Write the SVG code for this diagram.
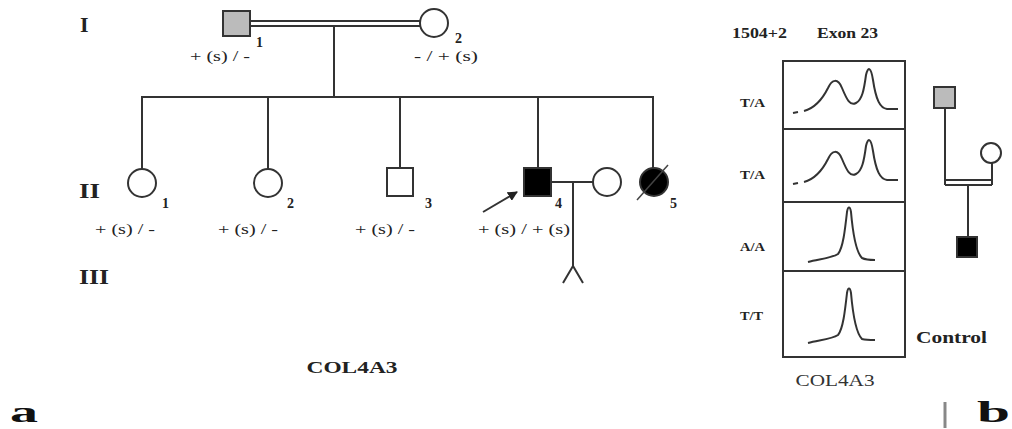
<svg xmlns="http://www.w3.org/2000/svg" width="1012" height="429" viewBox="0 0 1012 429">
<style>
.ln{stroke:#333;stroke-width:2;fill:none}
.sym{stroke:#333;stroke-width:2}
.gen{font-family:"Liberation Serif",serif;font-size:15px;fill:#222}
.num{font-family:"Liberation Serif",serif;font-size:14px;font-weight:bold;fill:#222}
.rom{font-family:"Liberation Serif",serif;font-size:22px;font-weight:bold;fill:#222}
.lbl{font-family:"Liberation Serif",serif;font-size:14px;font-weight:bold;fill:#222}
.trace{stroke:#333;stroke-width:2;fill:none;stroke-linejoin:round}
</style>
<defs>
<marker id="ah" viewBox="0 0 10 10" refX="9" refY="5" markerWidth="5" markerHeight="5" orient="auto"><path d="M0,0 L10,5 L0,10 z" fill="#222"/></marker>
</defs>
<rect width="1012" height="429" fill="#fff"/>
<g id="connectors">
<line x1="250" y1="21" x2="420" y2="21" class="ln"/>
<line x1="250" y1="26" x2="420" y2="26" class="ln"/>
<line x1="334" y1="26" x2="334" y2="97" class="ln"/>
<polyline points="142,169 142,97 653,97 653,168" class="ln"/>
<line x1="268" y1="97" x2="268" y2="169" class="ln"/>
<line x1="400" y1="97" x2="400" y2="168" class="ln"/>
<line x1="538" y1="97" x2="538" y2="168" class="ln"/>
<line x1="551" y1="182" x2="593" y2="182" class="ln"/>
<polyline points="573,182 573,267" class="ln"/>
<polyline points="563,283 573,266 583,283" class="ln"/>
<line x1="483" y1="212" x2="517" y2="192" class="ln" marker-end="url(#ah)"/>
<line x1="945" y1="108" x2="945" y2="185" class="ln"/>
<line x1="945" y1="180" x2="992" y2="180" class="ln"/>
<line x1="945" y1="185" x2="992" y2="185" class="ln"/>
<line x1="992" y1="163" x2="992" y2="185" class="ln"/>
<line x1="968" y1="185" x2="968" y2="237" class="ln"/>
</g>
<g id="I-1"><rect x="223" y="11" width="27" height="25" fill="#bbb" class="sym"/><text x="256" y="47" class="num">1</text><text x="190" y="61" class="gen" textLength="60" lengthAdjust="spacingAndGlyphs">+ (s) / -</text></g>
<g id="I-2"><circle cx="434" cy="23" r="14" fill="#fff" class="sym"/><text x="455" y="43" class="num">2</text><text x="414" y="61" class="gen" textLength="64" lengthAdjust="spacingAndGlyphs">- / + (s)</text></g>
<g id="II-1"><circle cx="142" cy="183" r="14" fill="#fff" class="sym"/><text x="162" y="208" class="num">1</text><text x="95" y="234" class="gen" textLength="60" lengthAdjust="spacingAndGlyphs">+ (s) / -</text></g>
<g id="II-2"><circle cx="268" cy="183" r="14" fill="#fff" class="sym"/><text x="287" y="208" class="num">2</text><text x="218" y="234" class="gen" textLength="60" lengthAdjust="spacingAndGlyphs">+ (s) / -</text></g>
<g id="II-3"><rect x="387" y="168" width="26" height="28" fill="#fff" class="sym"/><text x="425" y="208" class="num">3</text><text x="355" y="234" class="gen" textLength="60" lengthAdjust="spacingAndGlyphs">+ (s) / -</text></g>
<g id="II-4"><rect x="524" y="168" width="27" height="28" fill="#000" class="sym"/><text x="555" y="208" class="num">4</text><text x="478" y="234" class="gen" textLength="92" lengthAdjust="spacingAndGlyphs">+ (s) / + (s)</text></g>
<g id="II-4-spouse"><circle cx="607" cy="182" r="14" fill="#fff" class="sym"/></g>
<g id="II-5"><circle cx="654" cy="182" r="14" fill="#000" class="sym"/><line x1="637" y1="200" x2="668" y2="165" stroke="#444" stroke-width="1.5"/><text x="670" y="208" class="num">5</text></g>
<g id="III-1"></g>
<g id="generations"><text x="80" y="32" class="rom">I</text><text x="79" y="198" class="rom" textLength="21" lengthAdjust="spacingAndGlyphs">II</text><text x="79" y="284" class="rom" textLength="30" lengthAdjust="spacingAndGlyphs">III</text></g>
<text x="352" y="373" class="lbl" font-size="17" text-anchor="middle" textLength="91" lengthAdjust="spacingAndGlyphs" style="font-size:17px">COL4A3</text>
<text x="10" y="422" font-family="Liberation Serif, serif" font-weight="bold" font-size="30" fill="#111" textLength="28" lengthAdjust="spacingAndGlyphs">a</text>
<g id="panel-b">
<text x="732" y="38" class="lbl" textLength="55" lengthAdjust="spacingAndGlyphs">1504+2</text>
<text x="817" y="38" class="lbl" textLength="61" lengthAdjust="spacingAndGlyphs">Exon 23</text>
<rect x="783" y="61" width="122" height="296" class="ln"/>
<line x1="783" y1="129" x2="905" y2="129" class="ln"/>
<line x1="783" y1="202" x2="905" y2="202" class="ln"/>
<line x1="783" y1="271" x2="905" y2="271" class="ln"/>
<text x="740" y="107" class="lbl" font-size="12" style="font-size:12px" textLength="25" lengthAdjust="spacingAndGlyphs">T/A</text>
<text x="740" y="179" class="lbl" style="font-size:12px" textLength="25" lengthAdjust="spacingAndGlyphs">T/A</text>
<text x="740" y="251" class="lbl" style="font-size:12px" textLength="25" lengthAdjust="spacingAndGlyphs">A/A</text>
<text x="740" y="320" class="lbl" style="font-size:12px" textLength="23" lengthAdjust="spacingAndGlyphs">T/T</text>
<path d="M793,113 L798,112 M804,111 C815,108 822,100 828,88 C832,79 838,78 842,88 C847,100 850,106 856,103 C862,100 864,90 866,75 C868,66 871,67 873,80 C876,100 880,108 887,109 L898,109" class="trace"/>
<path d="M793,184 L798,183 M804,182 C815,179 822,171 828,159 C832,150 838,149 842,159 C847,171 850,177 856,174 C862,171 864,161 866,146 C868,137 871,138 873,151 C876,171 880,179 887,180 L898,180" class="trace"/>
<path d="M808,262 C820,259 832,258 838,254 C843,248 845,230 847,212 C848,206 850,206 851,212 C853,235 856,252 862,258 C866,260 870,260 875,260" class="trace"/>
<path d="M808,343 C820,340 832,339 838,335 C843,329 845,311 847,293 C848,287 850,287 851,293 C853,316 856,333 862,339 C866,340 870,340 875,340" class="trace"/>
<text x="835" y="386" font-family="Liberation Serif, serif" font-size="17" fill="#333" text-anchor="middle" textLength="79" lengthAdjust="spacingAndGlyphs">COL4A3</text>
<text x="916" y="343" class="lbl" style="font-size:17px" textLength="71" lengthAdjust="spacingAndGlyphs">Control</text>
<rect x="934" y="87" width="21" height="21" fill="#bbb" class="sym"/>
<circle cx="991" cy="153" r="10" fill="#fff" class="sym"/>
<rect x="957" y="237" width="20" height="20" fill="#000" class="sym"/>
<line x1="945" y1="402" x2="945" y2="428" stroke="#888" stroke-width="3"/>
<text x="977" y="422" font-family="Liberation Serif, serif" font-weight="bold" font-size="30" fill="#111" textLength="33" lengthAdjust="spacingAndGlyphs">b</text>
</g>
</svg>
